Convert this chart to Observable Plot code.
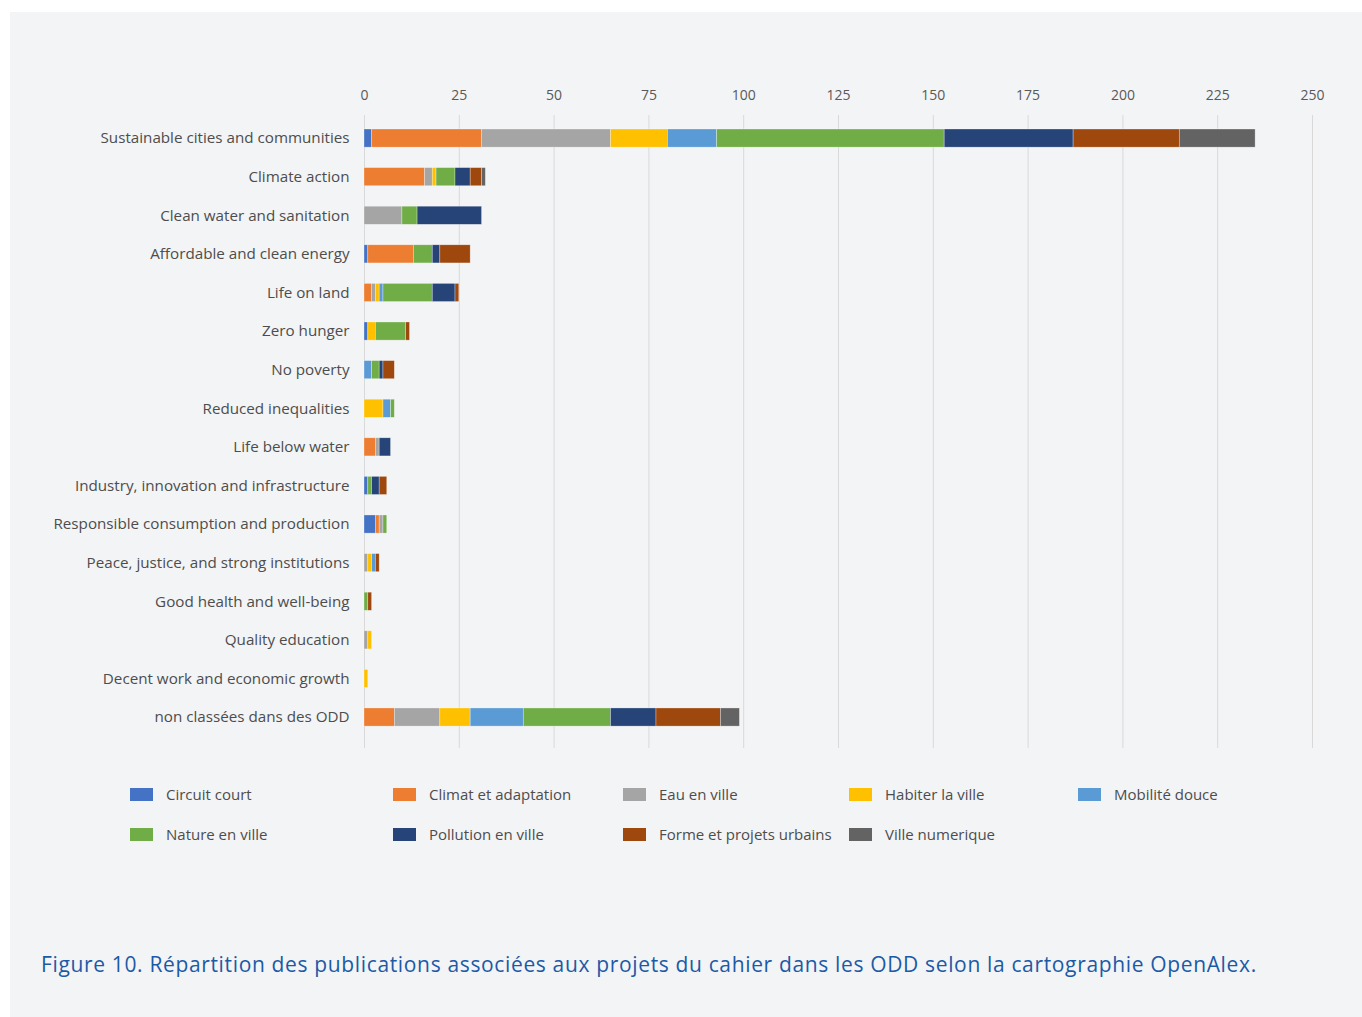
<!DOCTYPE html>
<html>
<head>
<meta charset="utf-8">
<script src="https://cdn.jsdelivr.net/npm/d3@7"></script>
<script src="https://cdn.jsdelivr.net/npm/@observablehq/plot@0.6"></script>
<style>
  html, body { margin:0; padding:0; background:#ffffff; }
  body { width:1362px; height:1017px; position:relative; overflow:hidden; font-family:"Open Sans", sans-serif; }
  #bg { position:absolute; left:10px; top:12px; width:1352px; height:1005px; background:#f3f4f6; }
  #chart { position:absolute; left:0; top:0; }
  #legend { position:absolute; left:130px; top:785px; display:grid;
    grid-template-columns: 263px 230px 226px 229px 200px; row-gap:22px; }
  .item { display:flex; align-items:center; height:18px; font-size:15px; color:#4d4d4d; white-space:nowrap; }
  .sw { width:23px; height:13px; margin-right:13px; flex:none; }
  #caption { position:absolute; left:41px; top:950px; font-size:21px; letter-spacing:0.65px; color:#1b5aa6; white-space:nowrap; }
</style>
</head>
<body>
<div id="bg"></div>
<div id="chart"></div>
<div id="legend"></div>
<div id="caption">Figure 10. Répartition des publications associées aux projets du cahier dans les ODD selon la cartographie OpenAlex.</div>
<script>
const categories = [
  "Sustainable cities and communities",
  "Climate action",
  "Clean water and sanitation",
  "Affordable and clean energy",
  "Life on land",
  "Zero hunger",
  "No poverty",
  "Reduced inequalities",
  "Life below water",
  "Industry, innovation and infrastructure",
  "Responsible consumption and production",
  "Peace, justice, and strong institutions",
  "Good health and well-being",
  "Quality education",
  "Decent work and economic growth",
  "non classées dans des ODD"
];
const series = ["Circuit court","Climat et adaptation","Eau en ville","Habiter la ville","Mobilité douce",
  "Nature en ville","Pollution en ville","Forme et projets urbains","Ville numerique"];
const colors = ["#4472c4","#ed7d31","#a5a5a5","#ffc000","#5b9bd5","#70ad47","#264478","#9e480e","#636363"];
const xTicks = [0,25,50,75,100,125,150,175,200,225,250];

const circuitCourt   = [2, 0, 0, 1, 0, 1, 0, 0, 0, 1, 3, 0, 0, 0, 0, 0];
const climat         = [29,16, 0,12, 2, 0, 0, 0, 3, 0, 1, 0, 0, 0, 0, 8];
const eau            = [34, 2,10, 0, 1, 0, 0, 0, 1, 0, 1, 1, 0, 1, 0,12];
const habiter        = [15, 1, 0, 0, 1, 2, 0, 5, 0, 0, 0, 1, 0, 1, 1, 8];
const mobilite       = [13, 0, 0, 0, 1, 0, 2, 2, 0, 0, 0, 1, 0, 0, 0,14];
const nature         = [60, 5, 4, 5,13, 8, 2, 1, 0, 1, 1, 0, 1, 0, 0,23];
const pollution      = [34, 4,17, 2, 6, 0, 1, 0, 3, 2, 0, 0, 0, 0, 0,12];
const forme          = [28, 3, 0, 8, 1, 1, 3, 0, 0, 2, 0, 1, 1, 0, 0,17];
const villeNumerique = [20, 1, 0, 0, 0, 0, 0, 0, 0, 0, 0, 0, 0, 0, 0, 5];

const values = [circuitCourt, climat, eau, habiter, mobilite, nature, pollution, forme, villeNumerique];

const data = series.flatMap((s, i) => categories.map((c, j) => ({category: c, series: s, value: values[i][j]})))
  .filter(d => d.value > 0);

const chart = Plot.plot({
  width: 1362,
  height: 760,
  marginLeft: 364,
  marginRight: 50,
  marginTop: 115,
  marginBottom: 12,
  style: {background: "transparent", fontFamily: "Open Sans, sans-serif"},
  x: {domain: [0, 250], label: null},
  y: {domain: categories, paddingInner: 0.53, paddingOuter: 0.465, align: 0.39, round: false, label: null},
  color: {domain: series, range: colors},
  marks: [
    Plot.gridX(xTicks, {stroke: "#d9d9d9", strokeOpacity: 1, strokeWidth: 1}),
    Plot.axisX(xTicks, {anchor: "top", tickSize: 0, tickPadding: 16, fontSize: 14, color: "#595959", label: null}),
    Plot.axisY({tickSize: 0, tickPadding: 15, fontSize: 15.2, color: "#4d4d4d", label: null}),
    Plot.barX(data, Plot.stackX({x: "value", y: "category", fill: "series", order: series,
      stroke: "#ffffff", strokeWidth: 0.6, strokeOpacity: 0.5}))
  ]
});
document.getElementById("chart").appendChild(chart);

const legend = document.getElementById("legend");
series.forEach((s, i) => {
  const it = document.createElement("div");
  it.className = "item";
  const sw = document.createElement("span");
  sw.className = "sw";
  sw.style.background = colors[i];
  it.appendChild(sw);
  it.appendChild(document.createTextNode(s));
  legend.appendChild(it);
});
</script>
</body>
</html>
